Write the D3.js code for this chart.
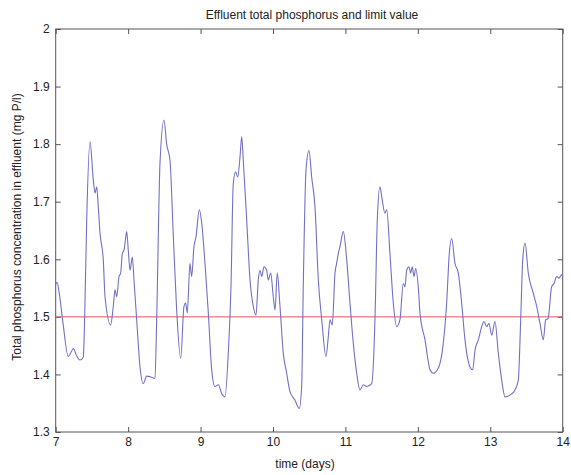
<!DOCTYPE html>
<html>
<head>
<meta charset="utf-8">
<script src="https://cdn.jsdelivr.net/npm/d3@7"></script>
<style>
  body { margin: 0; background: #fff; }
  text { font-family: "Liberation Sans", Arial, sans-serif; fill: #222; }
</style>
</head>
<body>
<svg id="chart" width="571" height="475"></svg>
<script>
// time in days
const days = [
  7.000, 7.018, 7.05, 7.10, 7.174, 7.21, 7.243, 7.29, 7.335, 7.381, 7.40, 7.428, 7.474,
  7.519, 7.543, 7.566, 7.588, 7.612, 7.657, 7.681, 7.759, 7.795, 7.819, 7.842,
  7.874, 7.897, 7.920, 7.943, 7.957, 7.980, 8.002, 8.026, 8.058, 8.081, 8.118,
  8.164, 8.209, 8.256, 8.302, 8.371, 8.394, 8.440, 8.495, 8.532, 8.578, 8.624,
  8.670, 8.726, 8.771, 8.794, 8.817, 8.854, 8.877, 8.909, 8.937, 8.983, 9.016,
  9.061, 9.107, 9.154, 9.199, 9.245, 9.292, 9.337, 9.383, 9.420, 9.452, 9.485,
  9.513, 9.545, 9.568, 9.590, 9.637, 9.683, 9.728, 9.765, 9.797, 9.821, 9.844,
  9.876, 9.913, 9.935, 9.968, 10.004, 10.028, 10.059, 10.097, 10.142, 10.189,
  10.235, 10.304, 10.363, 10.396, 10.418, 10.456, 10.497, 10.534, 10.580, 10.626,
  10.673, 10.732, 10.764, 10.787, 10.819, 10.856, 10.879, 10.902, 10.925, 10.971,
  11.018, 11.063, 11.109, 11.156, 11.201, 11.247, 11.294, 11.363, 11.408, 11.440,
  11.477, 11.501, 11.546, 11.570, 11.615, 11.661, 11.708, 11.753, 11.799, 11.822,
  11.846, 11.878, 11.901, 11.923, 11.947, 11.970, 12.006, 12.030, 12.099, 12.168,
  12.213, 12.283, 12.351, 12.398, 12.434, 12.467, 12.513, 12.559, 12.605, 12.651,
  12.720, 12.757, 12.789, 12.835, 12.882, 12.913, 12.951, 12.982, 13.020, 13.065,
  13.111, 13.158, 13.203, 13.272, 13.341, 13.387, 13.420, 13.448, 13.480, 13.525,
  13.594, 13.641, 13.686, 13.732, 13.765, 13.798, 13.847, 13.880, 13.917, 13.948,
  13.985, 14.000
];
// total phosphorus (mg P/l)
const phosphorus = [
  1.556, 1.560, 1.540, 1.490, 1.431, 1.438, 1.445, 1.432, 1.425, 1.430, 1.500, 1.668, 1.804,
  1.738, 1.715, 1.726, 1.691, 1.645, 1.599, 1.535, 1.486, 1.518, 1.547, 1.535,
  1.570, 1.576, 1.610, 1.616, 1.628, 1.648, 1.616, 1.581, 1.604, 1.564, 1.495,
  1.413, 1.384, 1.397, 1.396, 1.393, 1.495, 1.767, 1.842, 1.800, 1.772, 1.640,
  1.512, 1.428, 1.518, 1.524, 1.507, 1.593, 1.570, 1.622, 1.639, 1.686, 1.663,
  1.593, 1.507, 1.408, 1.379, 1.382, 1.367, 1.361, 1.437, 1.552, 1.732, 1.752,
  1.743, 1.778, 1.813, 1.772, 1.668, 1.564, 1.518, 1.503, 1.564, 1.581, 1.570,
  1.587, 1.581, 1.564, 1.576, 1.535, 1.512, 1.576, 1.518, 1.437, 1.402,
  1.370, 1.355, 1.341, 1.379, 1.552, 1.755, 1.789, 1.743, 1.691, 1.564,
  1.495, 1.431, 1.466, 1.495, 1.486, 1.576, 1.593, 1.610, 1.622, 1.648,
  1.599, 1.524, 1.454, 1.402, 1.373, 1.382, 1.379, 1.384, 1.495, 1.668,
  1.726, 1.709, 1.680, 1.686, 1.610, 1.524, 1.483, 1.495, 1.558, 1.552,
  1.581, 1.587, 1.576, 1.587, 1.570, 1.584, 1.552, 1.506, 1.460, 1.408,
  1.402, 1.411, 1.454, 1.524, 1.610, 1.636, 1.593, 1.576, 1.524, 1.460,
  1.413, 1.408, 1.442, 1.460, 1.483, 1.492, 1.483, 1.489, 1.468, 1.492,
  1.437, 1.390, 1.361, 1.364, 1.373, 1.390, 1.495, 1.599, 1.628, 1.576,
  1.541, 1.518, 1.489, 1.460, 1.495, 1.497, 1.552, 1.558, 1.570, 1.567,
  1.573, 1.570
];
const limitValue = 1.5;
const xTicks = [7, 8, 9, 10, 11, 12, 13, 14];
const yTicks = [1.3, 1.4, 1.5, 1.6, 1.7, 1.8, 1.9, 2];

const svg = d3.select("#chart");
const plotLeft = 55.7, plotRight = 562.7, plotTop = 29, plotBottom = 432;

const x = d3.scaleLinear().domain([7, 14]).range([plotLeft, plotRight]);
const y = d3.scaleLinear().domain([1.3, 2]).range([plotBottom, plotTop]);

// box
svg.append("rect")
  .attr("x", plotLeft).attr("y", plotTop)
  .attr("width", plotRight - plotLeft).attr("height", plotBottom - plotTop)
  .attr("fill", "none").attr("stroke", "#555").attr("stroke-width", 1);

// axes, ticks inward like matlab
const fmtY = d => (d === 2 ? "2" : d3.format(".1f")(d));
const bottomAxis = svg.append("g")
  .attr("transform", "translate(0," + plotBottom + ")")
  .call(d3.axisBottom(x).tickValues(xTicks).tickSizeInner(-5).tickSizeOuter(0).tickPadding(5).tickFormat(d3.format("d")));
const topAxis = svg.append("g")
  .attr("transform", "translate(0," + plotTop + ")")
  .call(d3.axisTop(x).tickValues(xTicks).tickSizeInner(-5).tickSizeOuter(0).tickFormat(""));
const leftAxis = svg.append("g")
  .attr("transform", "translate(" + plotLeft + ",0)")
  .call(d3.axisLeft(y).tickValues(yTicks).tickSizeInner(-5).tickSizeOuter(0).tickPadding(6).tickFormat(fmtY));
const rightAxis = svg.append("g")
  .attr("transform", "translate(" + plotRight + ",0)")
  .call(d3.axisRight(y).tickValues(yTicks).tickSizeInner(-5).tickSizeOuter(0).tickFormat(""));

[bottomAxis, topAxis, leftAxis, rightAxis].forEach(g => {
  g.select(".domain").remove();
  g.selectAll("line").attr("stroke", "#555");
  g.selectAll("text").style("font-size", "12px").attr("fill", "#333");
});

// limit line
svg.append("line")
  .attr("x1", x(7)).attr("x2", x(14))
  .attr("y1", y(limitValue)).attr("y2", y(limitValue))
  .attr("stroke", "#e05555").attr("stroke-width", 1);

// phosphorus curve
const pts = days.map((d, i) => [d, phosphorus[i]]);
svg.append("path")
  .datum(pts)
  .attr("fill", "none")
  .attr("stroke", "#7070c8")
  .attr("stroke-width", 1.1)
  .attr("d", d3.line().curve(d3.curveMonotoneX).x(d => x(d[0])).y(d => y(d[1])));

// title and labels
svg.append("text")
  .attr("x", 312).attr("y", 19)
  .attr("text-anchor", "middle")
  .style("font-size", "12px")
  .text("Effluent total phosphorus and limit value");

svg.append("text")
  .attr("x", 305).attr("y", 468)
  .attr("text-anchor", "middle")
  .style("font-size", "12px")
  .text("time (days)");

svg.append("text")
  .attr("transform", "translate(21,227) rotate(-90)")
  .attr("text-anchor", "middle")
  .style("font-size", "12px")
  .text("Total phosphorus concentration in effluent (mg P/l)");
</script>
</body>
</html>
